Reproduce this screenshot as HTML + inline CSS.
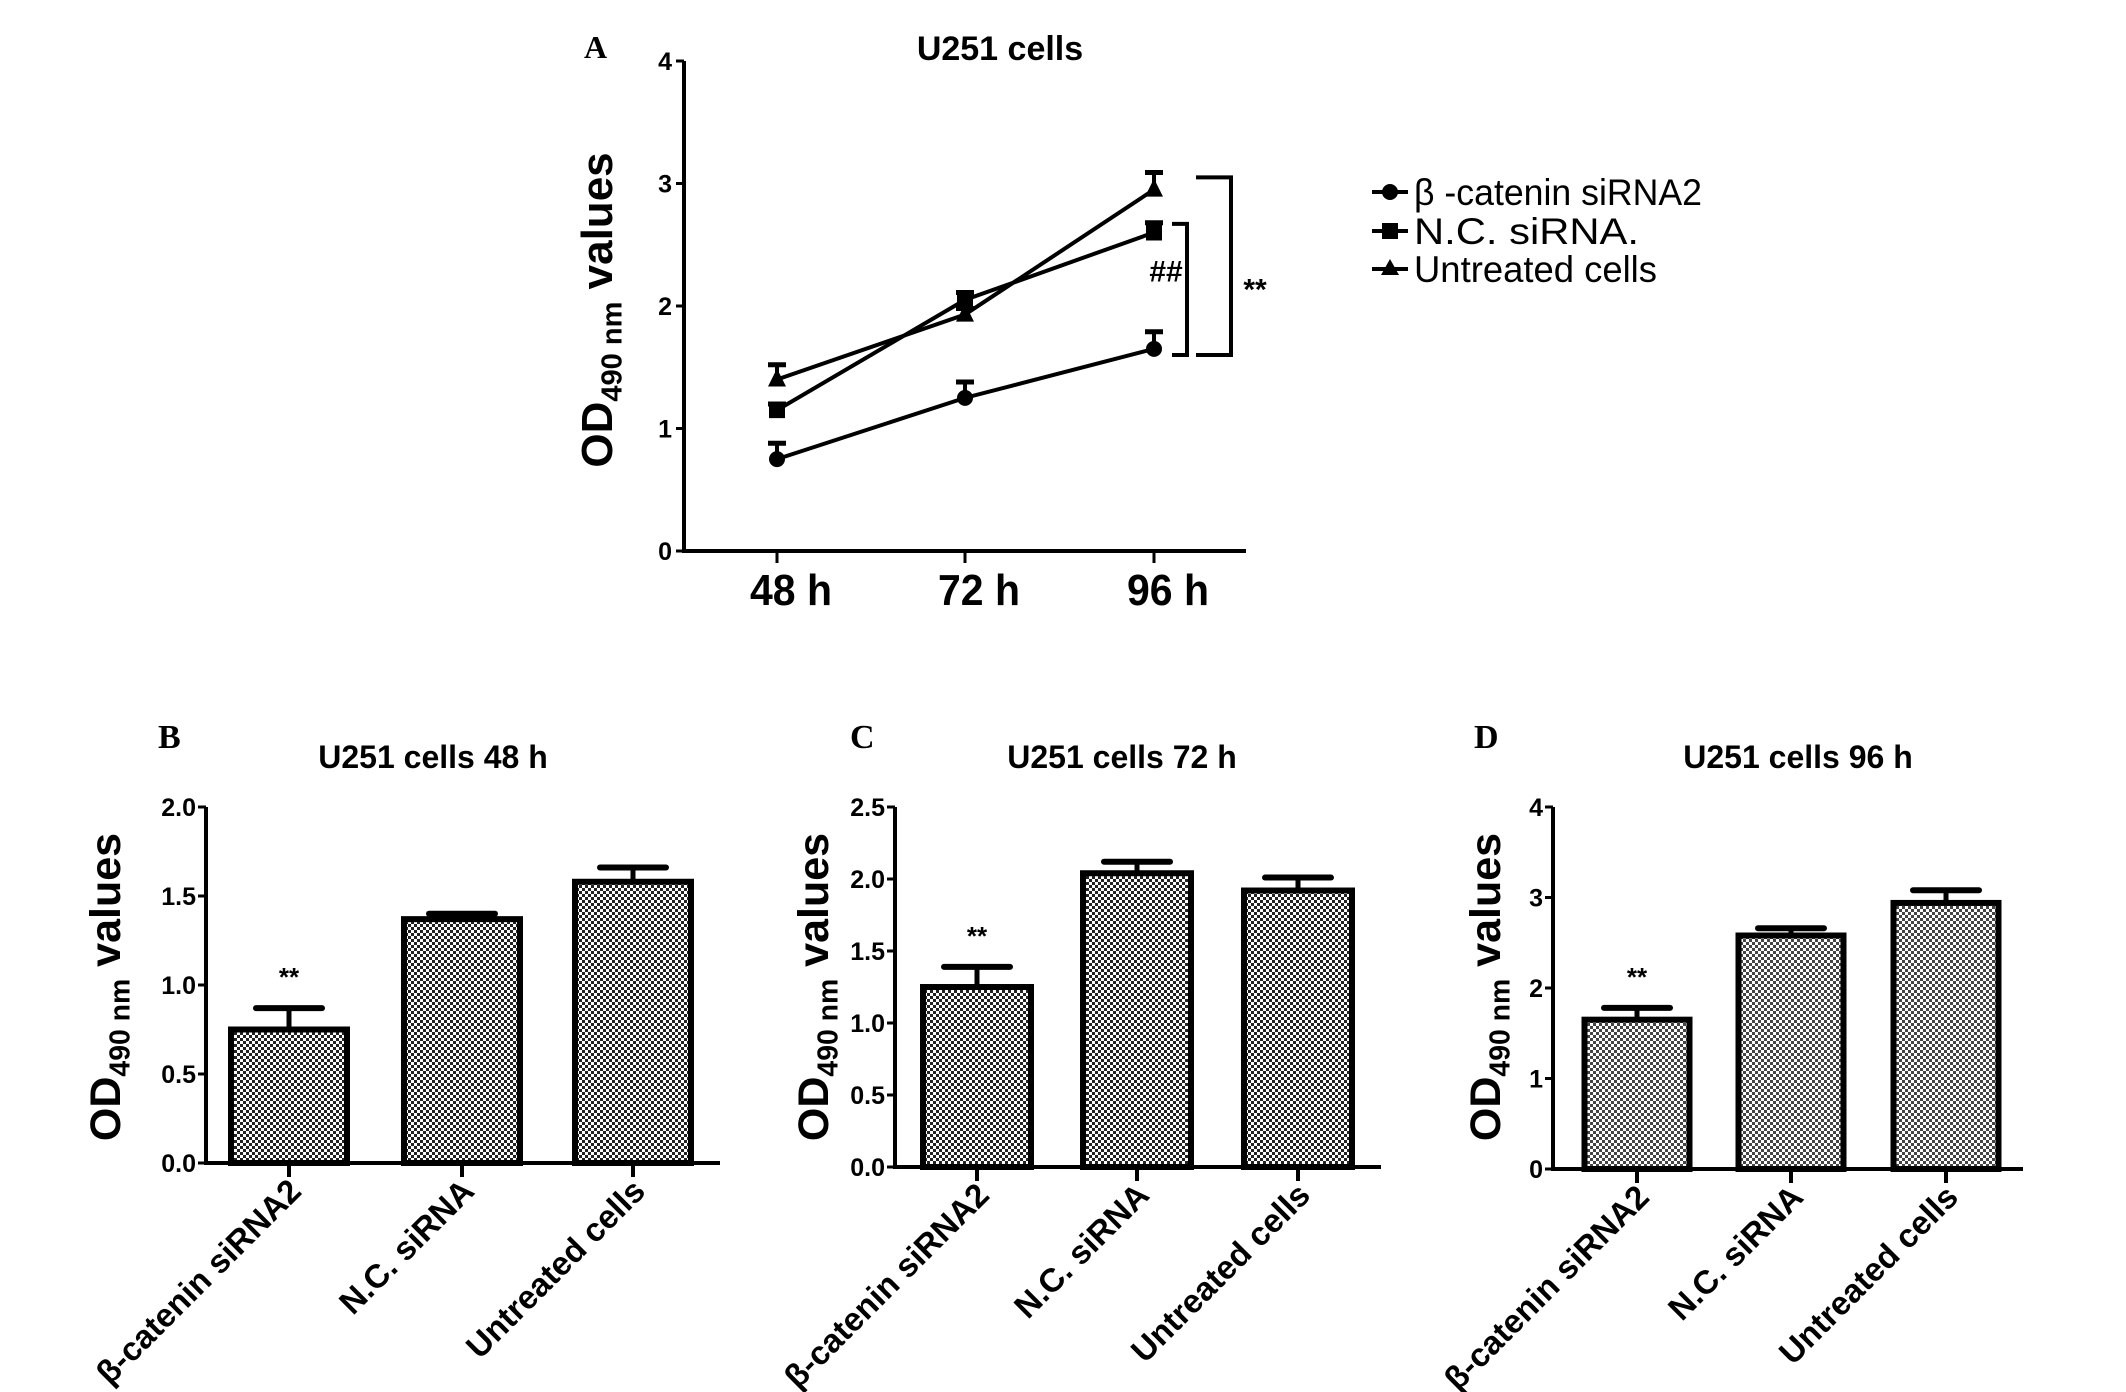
<!DOCTYPE html>
<html><head><meta charset="utf-8">
<style>
html,body{margin:0;padding:0;background:#fff;}
svg{display:block;font-family:"Liberation Sans",Arial,sans-serif;}
</style></head>
<body>
<svg id="fig" width="2126" height="1392" viewBox="0 0 2126 1392" xmlns="http://www.w3.org/2000/svg">
<defs>
<pattern id="dots" width="6" height="6" patternUnits="userSpaceOnUse">
<rect width="6" height="6" fill="#fff"/>
<rect width="3" height="3" fill="#222"/>
<rect x="3" y="3" width="3" height="3" fill="#222"/>
</pattern>
<pattern id="dotsLight" width="6" height="6" patternUnits="userSpaceOnUse">
<rect width="6" height="6" fill="#fff"/>
<rect width="3" height="3" fill="#444"/>
<rect x="3" y="3" width="3" height="3" fill="#444"/>
</pattern>
</defs>
<g id="layer"></g>
</svg>
<script>
// Panel A data
const timeLabels = ["48 h","72 h","96 h"];
const seriesNames = ["β -catenin siRNA2","N.C. siRNA.","Untreated cells"];
const siRNA2Vals = [0.75,1.25,1.65];
const siRNA2Err = [0.13,0.13,0.14];
const ncVals = [1.15,2.05,2.6];
const ncErr = [0.05,0.06,0.08];
const untreatedVals = [1.4,1.93,2.95];
const untreatedErr = [0.12,0.05,0.14];
const aTicks = [0,1,2,3,4];
// Bar panels
const barCategories = ["β-catenin siRNA2","N.C. siRNA","Untreated cells"];
const b48Vals = [0.75,1.37,1.58];
const b48Err = [0.12,0.03,0.08];
const b48Ticks = ["0.0","0.5","1.0","1.5","2.0"];
const c72Vals = [1.25,2.04,1.92];
const c72Err = [0.14,0.08,0.09];
const c72Ticks = ["0.0","0.5","1.0","1.5","2.0","2.5"];
const d96Vals = [1.65,2.58,2.94];
const d96Err = [0.13,0.08,0.14];
const d96Ticks = ["0","1","2","3","4"];

const NS="http://www.w3.org/2000/svg";
const layer=document.getElementById('layer');
function mk(tag,attrs,parent,text){const e=document.createElementNS(NS,tag);for(const k in attrs)e.setAttribute(k,attrs[k]);if(text!==undefined)e.textContent=text;(parent||layer).appendChild(e);return e;}

function yLabel(x,y,fs,parent){
  const t=mk('text',{x:0,y:0,transform:`translate(${x},${y}) rotate(-90)`,'text-anchor':'middle','font-size':fs,'font-weight':'bold'},parent);
  
  
  mk('tspan',{},t,'OD');
  mk('tspan',{'font-size':fs*0.66,dy:fs*0.22},t,'490 nm');
  mk('tspan',{dy:-fs*0.22},t,' values');
}

// ---------- Panel A ----------
(function(){
  const g=mk('g',{});
  
  
  const x0=684, xEnd=1246, yTop=61, yBot=551, vmax=4;
  const xs=[777,965,1154];
  const Y=v=>yBot-(yBot-yTop)*v/vmax;
  const X=i=>xs[i];
  const lt=mk('text',{x:584,y:58,'font-family':'Liberation Serif,serif','font-weight':'bold','font-size':32},g,'A');
  
  const tt=mk('text',{x:1000,y:60,'text-anchor':'middle','font-weight':'bold','font-size':34},g,'U251 cells');
  
  mk('line',{x1:x0,y1:yTop,x2:x0,y2:yBot+2,stroke:'#000','stroke-width':4},g);
  mk('line',{x1:x0-2,y1:yBot,x2:xEnd,y2:yBot,stroke:'#000','stroke-width':4},g);
  aTicks.forEach(v=>{
    mk('line',{x1:x0-8,y1:Y(v),x2:x0,y2:Y(v),stroke:'#000','stroke-width':3},g);
    const t=mk('text',{x:x0-12,y:Y(v)+9,'text-anchor':'end','font-weight':'bold','font-size':25},g,String(v));
    
  });
  timeLabels.forEach((l,i)=>{
    mk('line',{x1:X(i),y1:yBot,x2:X(i),y2:yBot+12,stroke:'#000','stroke-width':3},g);
    const t=mk('text',{x:X(i)+14,y:605,'text-anchor':'middle','font-weight':'bold','font-size':44,textLength:82,lengthAdjust:'spacingAndGlyphs'},g,l);
    
  });
  yLabel(612,310,44,g);
  const series=[[siRNA2Vals,siRNA2Err,'circle'],[ncVals,ncErr,'square'],[untreatedVals,untreatedErr,'triangle']];
  series.forEach((s,si)=>{
    const [vals,err,shape]=s;
    const pts=vals.map((v,i)=>X(i)+','+Y(v)).join(' ');
    const pl=mk('polyline',{points:pts,fill:'none',stroke:'#000','stroke-width':4},g);
    
    vals.forEach((v,i)=>{
      const cx=X(i),cy=Y(v),top=Y(v+err[i]);
      mk('line',{x1:cx,y1:cy,x2:cx,y2:top,stroke:'#000','stroke-width':4},g);
      mk('line',{x1:cx-9,y1:top,x2:cx+9,y2:top,stroke:'#000','stroke-width':5},g);
      let m;
      if(shape==='circle') m=mk('circle',{cx:cx,cy:cy,r:8,fill:'#000'},g);
      else if(shape==='square') m=mk('rect',{x:cx-8,y:cy-8,width:16,height:16,fill:'#000'},g);
      else m=mk('polygon',{points:`${cx},${cy-11} ${cx+9},${cy+7} ${cx-9},${cy+7}`,fill:'#000'},g);
      
    });
  });
  const b1x=1187, b2x=1231;
  mk('polyline',{points:`1172,${Y(2.67)} ${b1x},${Y(2.67)} ${b1x},${Y(1.6)} 1172,${Y(1.6)}`,fill:'none',stroke:'#000','stroke-width':4},g);
  mk('polyline',{points:`1196,${Y(3.05)} ${b2x},${Y(3.05)} ${b2x},${Y(1.6)} 1196,${Y(1.6)}`,fill:'none',stroke:'#000','stroke-width':4},g);
  const h=mk('text',{x:1166,y:Y(2.28)+10,'text-anchor':'middle','font-size':30,'font-weight':'bold'},g,'##');
  
  const s2=mk('text',{x:1255,y:Y(2.15)+12,'text-anchor':'middle','font-size':30,'font-weight':'bold'},g,'**');
  
  const ly=[192,231,269];
  const tl=[288,225,243];
  seriesNames.forEach((n,i)=>{
    const lg=mk('g',{},g);
    
    mk('line',{x1:1372,y1:ly[i],x2:1408,y2:ly[i],stroke:'#000','stroke-width':4},lg);
    const cx=1390,cy=ly[i];
    if(i===0) mk('circle',{cx:cx,cy:cy,r:8,fill:'#000'},lg);
    else if(i===1) mk('rect',{x:cx-8,y:cy-8,width:16,height:16,fill:'#000'},lg);
    else mk('polygon',{points:`${cx},${cy-10} ${cx+9},${cy+6} ${cx-9},${cy+6}`,fill:'#000'},lg);
    mk('text',{x:1414,y:ly[i]+13,'font-size':37,textLength:tl[i],lengthAdjust:'spacingAndGlyphs'},lg,n);
  });
})();

// ---------- Bar panels ----------
function barPanel(cfg){
  const g=mk('g',{});
  
  
  const {x0,xEnd,yTop,yBot,vmax,centers,bw,vals,err,ticks,fill}=cfg;
  const Y=v=>yBot-(yBot-yTop)*v/vmax;
  const lt=mk('text',{x:cfg.letterX,y:748,'font-family':'Liberation Serif,serif','font-weight':'bold','font-size':34},g,cfg.letter);
  
  const tt=mk('text',{x:cfg.titleX,y:768,'text-anchor':'middle','font-weight':'bold','font-size':32},g,cfg.title);
  
  vals.forEach((v,i)=>{
    const cx=centers[i], top=Y(v+err[i]);
    mk('line',{x1:cx,y1:Y(v),x2:cx,y2:top,stroke:'#000','stroke-width':5},g);
    mk('line',{x1:cx-33,y1:top,x2:cx+33,y2:top,stroke:'#000','stroke-width':6,'stroke-linecap':'round'},g);
    const r=mk('rect',{x:cx-bw/2,y:Y(v),width:bw,height:yBot-Y(v),fill:fill,stroke:'#000','stroke-width':6},g);
    
    if(i===0){
      const s=mk('text',{x:cx,y:top-22,'text-anchor':'middle','font-weight':'bold','font-size':26},g,'**');
      
    }
    mk('line',{x1:cx,y1:yBot,x2:cx,y2:yBot+14,stroke:'#000','stroke-width':4},g);
    const cl=mk('text',{x:0,y:0,transform:`translate(${cx+14},${yBot+30}) rotate(-45)`,'text-anchor':'end','font-weight':'bold','font-size':33},g,barCategories[i]);
    
  });
  mk('line',{x1:x0,y1:yTop,x2:x0,y2:yBot+2,stroke:'#000','stroke-width':4},g);
  mk('line',{x1:x0-2,y1:yBot,x2:xEnd,y2:yBot,stroke:'#000','stroke-width':4},g);
  ticks.forEach(tl=>{
    const v=parseFloat(tl);
    mk('line',{x1:x0-8,y1:Y(v),x2:x0,y2:Y(v),stroke:'#000','stroke-width':3},g);
    const t=mk('text',{x:x0-10,y:Y(v)+9,'text-anchor':'end','font-weight':'bold','font-size':25},g,tl);
    
  });
  yLabel(cfg.ylx,987,43,g);
}
barPanel({name:'panel-b-bar-chart',letter:'B',letterX:158,title:'U251 cells 48 h',titleX:433,x0:206,xEnd:720,yTop:807,yBot:1163,vmax:2,centers:[289,462,633],bw:116,vals:b48Vals,err:b48Err,ticks:b48Ticks,fill:'url(#dots)',ylx:120});
barPanel({name:'panel-c-bar-chart',letter:'C',letterX:850,title:'U251 cells 72 h',titleX:1122,x0:895,xEnd:1381,yTop:807,yBot:1167,vmax:2.5,centers:[977,1137,1298],bw:108,vals:c72Vals,err:c72Err,ticks:c72Ticks,fill:'url(#dots)',ylx:828});
barPanel({name:'panel-d-bar-chart',letter:'D',letterX:1474,title:'U251 cells 96 h',titleX:1798,x0:1553,xEnd:2023,yTop:807,yBot:1169,vmax:4,centers:[1637,1791,1946],bw:105,vals:d96Vals,err:d96Err,ticks:d96Ticks,fill:'url(#dotsLight)',ylx:1500});
</script>
</body></html>
